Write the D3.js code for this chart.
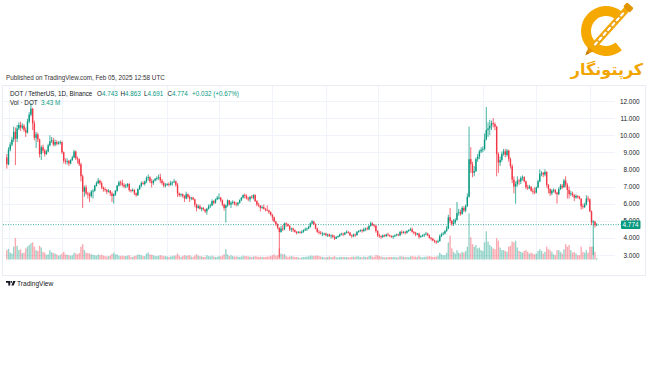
<!DOCTYPE html>
<html><head><meta charset="utf-8">
<script src="https://cdn.jsdelivr.net/npm/d3@7"></script>
<style>html,body{margin:0;padding:0;background:#fff;}svg{display:block}</style>
</head><body>
<svg id="chart" width="650" height="365"></svg>
<script>
// ---------- DATA (daily DOT/USDT, Binance, 2024-02-29 .. 2025-02-05) ----------
const firstDate = "2024-02-29";
const firstOpen = 8.7;
const closes = [
 8.3,
 9.15,9.45,9.75,10.2,9.8,10.4,10.6,10.45,10.55,10.3,10.15,10.8,11.2,11.55,10.7,9.85,10.05,9.75,8.9,9.3,9.1,8.9,9.05,9.4,9.65,9.7,9.45,9.6,9.5,9.55,9.6,
 9.0,8.5,8.45,8.5,8.35,8.55,8.7,9.05,8.65,8.6,8.3,7.6,6.7,6.95,6.6,6.55,6.45,6.7,6.75,7.05,7.2,7.35,7.2,6.95,6.85,6.8,6.7,6.75,6.6,6.45,
 6.55,6.75,7.05,7.25,7.2,7.1,7.0,7.05,7.15,6.8,6.75,6.8,6.6,6.5,6.85,7.05,7.2,7.15,7.3,7.5,7.55,7.3,7.2,7.35,7.45,7.5,7.55,7.35,7.2,7.05,7.1,
 7.15,7.1,7.2,7.25,7.3,7.1,6.6,6.5,6.55,6.45,6.3,6.55,6.4,6.3,6.35,6.25,5.95,5.75,5.85,5.7,5.75,5.65,5.55,5.7,5.85,5.9,6.15,6.05,6.25,6.35,
 6.35,6.2,5.95,5.75,5.9,6.2,5.95,6.05,6.1,6.0,5.95,6.05,6.2,6.35,6.5,6.45,6.3,6.25,6.4,6.35,6.5,6.15,5.95,5.9,5.75,5.8,5.7,5.65,5.6,5.5,5.35,
 5.2,4.95,4.8,4.6,4.35,4.55,4.5,4.85,4.8,4.7,4.5,4.55,4.45,4.35,4.3,4.35,4.3,4.35,4.45,4.5,4.55,4.65,4.85,4.95,4.8,4.55,4.35,4.3,4.25,4.25,4.25,
 4.15,4.2,4.1,4.15,4.05,3.95,4.05,4.1,4.2,4.25,4.2,4.3,4.35,4.3,4.15,4.1,4.2,4.15,4.35,4.4,4.45,4.4,4.5,4.55,4.5,4.7,4.85,4.75,4.7,4.4,
 4.15,4.1,4.05,4.15,4.1,4.2,4.15,4.1,4.05,4.1,4.15,4.2,4.15,4.35,4.3,4.35,4.3,4.4,4.45,4.5,4.35,4.3,4.2,4.25,4.05,4.1,4.15,4.2,4.25,4.15,4.0,
 3.95,3.85,3.8,3.75,3.8,4.1,4.2,4.25,4.4,4.55,5.2,5.0,4.8,4.9,5.05,5.45,5.5,5.4,5.75,5.6,5.85,6.4,8.6,8.3,7.8,7.9,8.6,8.75,9.05,9.15,
 9.2,9.75,10.3,10.4,10.55,10.7,10.65,10.5,8.9,8.4,8.55,8.9,9.05,8.85,9.1,8.6,8.2,7.4,7.0,7.15,7.35,7.3,7.5,7.55,7.3,6.95,6.9,7.0,6.75,6.7,6.65,
 6.95,7.3,7.75,7.8,7.7,7.85,7.1,6.85,6.6,6.75,6.8,6.65,6.55,6.85,7.05,6.95,7.35,7.1,6.8,6.55,6.6,6.5,6.35,6.45,6.4,6.3,5.85,5.8,5.95,6.3,6.25,
 5.55,4.9,4.95,4.743,4.774
];
const highs = [
 8.9,
 9.3,9.6,9.9,10.5,10.45,10.6,10.75,10.8,10.7,10.65,10.45,10.95,11.35,11.88,11.6,10.85,10.2,10.15,9.8,9.4,9.45,9.2,9.15,9.5,10.0,9.9,9.85,9.75,9.7,9.65,9.7,
 9.65,9.05,8.65,8.65,8.55,8.6,8.8,9.15,9.1,8.75,8.65,8.4,7.7,7.05,7.1,6.7,6.65,6.8,6.85,7.1,7.3,7.5,7.4,7.3,7.0,6.95,6.85,6.85,6.8,6.7,
 6.6,6.8,7.1,7.35,7.35,7.4,7.2,7.15,7.2,7.2,6.85,6.9,6.85,6.65,6.9,7.1,7.3,7.3,7.35,7.6,7.7,7.6,7.45,7.4,7.5,7.6,7.7,7.75,7.45,7.3,7.2,
 7.2,7.25,7.35,7.3,7.45,7.35,7.2,6.65,6.6,6.6,6.5,6.7,6.6,6.5,6.4,6.4,6.3,6.0,5.95,5.95,5.8,5.8,5.7,5.75,5.95,6.0,6.25,6.2,6.3,6.45,
 6.6,6.4,6.25,6.0,5.95,6.25,6.2,6.15,6.2,6.15,6.1,6.1,6.25,6.4,6.55,6.6,6.55,6.4,6.45,6.5,6.55,6.55,6.2,6.05,5.9,5.9,5.95,5.75,5.9,5.65,5.55,
 5.4,5.25,5.0,4.85,4.6,4.7,4.75,4.9,4.9,4.85,4.75,4.6,4.6,4.5,4.4,4.4,4.4,4.45,4.5,4.6,4.6,4.7,4.9,5.05,5.0,4.85,4.6,4.45,4.4,4.35,4.3,
 4.3,4.25,4.25,4.2,4.2,4.15,4.1,4.15,4.25,4.3,4.3,4.35,4.45,4.4,4.35,4.2,4.25,4.25,4.4,4.45,4.5,4.5,4.6,4.6,4.65,4.75,4.95,4.9,4.8,4.75,
 4.45,4.25,4.15,4.2,4.2,4.25,4.3,4.2,4.15,4.15,4.2,4.25,4.25,4.4,4.45,4.4,4.4,4.45,4.5,4.6,4.6,4.4,4.35,4.3,4.3,4.15,4.2,4.25,4.35,4.3,4.2,
 4.05,4.0,3.9,3.85,3.9,4.2,4.3,4.35,4.45,4.7,5.35,5.75,5.05,5.1,5.15,6.1,5.7,5.65,5.85,5.85,5.95,6.6,10.5,9.3,8.45,8.2,8.7,8.9,9.15,9.3,
 9.35,10.1,11.65,10.75,10.9,10.85,11.0,10.75,10.55,9.0,8.75,9.05,9.2,9.2,9.2,9.15,8.7,8.3,7.6,7.3,7.6,7.45,7.6,7.65,7.6,7.35,7.1,7.1,7.0,6.9,6.95,
 7.0,7.4,8.0,7.9,7.85,8.0,7.9,7.15,6.9,6.85,6.9,6.85,6.7,6.95,7.15,7.15,7.45,7.6,7.2,7.0,6.75,6.7,6.55,6.55,6.5,6.45,6.3,6.0,6.05,6.5,6.45,
 6.3,5.6,5.05,5.0,4.863
];
const lows = [
 8.05,
 8.25,9.05,9.35,9.6,8.25,9.6,10.3,10.25,10.35,10.2,9.9,10.1,10.7,11.1,10.3,9.7,9.25,9.6,8.7,8.55,8.95,8.75,8.85,9.0,9.35,9.55,9.35,9.35,9.4,9.45,9.45,
 8.9,8.35,8.3,8.3,8.2,8.3,8.5,8.65,8.55,8.35,8.2,7.3,5.75,6.4,6.5,6.3,6.1,6.35,6.3,6.7,7.0,7.15,7.1,6.85,6.7,6.7,6.55,6.65,6.45,6.1,
 6.0,6.45,6.7,7.0,7.05,7.0,6.9,6.9,6.95,6.7,6.65,6.7,6.5,6.4,6.45,6.8,6.95,7.1,7.05,7.2,7.35,7.2,6.95,7.1,7.3,7.35,7.4,7.2,7.1,6.95,6.95,
 7.05,7.0,7.05,7.05,7.2,7.0,6.4,6.4,6.4,6.35,6.1,6.25,6.3,6.1,6.2,6.2,5.8,5.55,5.7,5.65,5.55,5.6,5.45,5.35,5.65,5.75,5.85,5.95,6.0,6.2,
 6.25,6.1,5.85,5.6,4.9,5.8,5.9,5.75,5.95,5.9,5.85,5.85,6.0,6.15,6.3,6.3,6.25,6.15,6.1,6.3,6.25,6.1,5.85,5.8,5.55,5.7,5.65,5.55,5.55,5.4,5.3,
 5.0,4.9,4.7,4.5,2.85,4.3,4.4,4.45,4.65,4.65,4.4,4.35,4.35,4.3,4.2,4.25,4.25,4.25,4.3,4.4,4.4,4.5,4.6,4.8,4.75,4.5,4.3,4.2,4.2,4.1,4.15,
 4.1,4.05,4.05,3.95,4.0,3.88,3.95,4.0,4.05,4.15,4.1,4.15,4.25,4.25,4.1,4.0,4.05,4.05,4.15,4.3,4.35,4.3,4.35,4.4,4.45,4.45,4.65,4.7,4.6,4.3,
 4.05,4.0,3.95,4.0,4.05,4.05,4.1,4.05,4.0,3.95,4.05,4.1,4.1,4.1,4.2,4.25,4.2,4.25,4.35,4.4,4.3,4.2,4.1,4.15,3.95,4.0,4.05,4.05,4.15,4.1,3.95,
 3.85,3.8,3.7,3.65,3.7,3.8,4.05,4.15,4.2,4.35,4.5,4.85,4.7,4.7,4.8,5.0,5.3,5.3,5.35,5.5,5.5,5.8,6.35,7.8,7.55,7.6,7.85,8.45,8.6,8.95,
 9.0,9.1,9.7,9.9,10.0,10.3,10.45,10.3,7.6,7.8,8.2,8.45,8.8,8.7,8.75,8.45,8.05,7.2,6.6,6.0,7.0,7.1,7.15,7.35,7.25,6.85,6.8,6.85,6.7,6.55,6.55,
 6.6,6.9,7.25,7.6,7.55,7.6,6.95,6.6,6.45,6.5,6.65,6.55,6.0,6.5,6.8,6.85,6.95,6.95,6.3,6.3,6.45,6.4,6.15,6.3,6.3,6.25,5.65,5.7,5.75,5.9,6.1,
 5.5,4.75,3.0,4.6,4.691
];
// volume, millions of DOT
const volumes = [
 22,
 25,16,14,30,50,32,22,24,15,16,26,30,34,38,40,30,22,20,32,28,18,16,11,12,22,17,15,14,12,9,10,
 14,18,12,11,10,9,10,16,14,12,15,30,36,22,16,15,14,12,11,10,9,12,10,11,9,8,7,8,9,13,
 16,12,12,9,8,9,8,8,9,10,6,6,8,9,12,11,10,8,8,14,16,12,11,10,8,8,9,10,9,8,8,
 7,6,7,8,9,9,14,9,6,8,10,9,9,10,7,6,9,12,9,8,7,6,6,10,8,7,9,7,6,6,
 8,7,9,12,24,12,8,10,8,7,7,7,6,7,9,8,8,7,7,6,7,8,7,6,7,6,6,6,7,7,8,
 10,12,9,10,26,14,12,13,8,6,7,8,7,6,6,5,4,5,6,6,7,7,9,9,8,9,9,8,7,6,5,
 5,6,7,6,6,8,5,5,6,6,6,6,6,5,5,6,7,6,8,7,6,5,7,6,6,8,9,7,6,10,
 10,8,7,6,5,5,6,6,6,6,6,5,5,8,7,7,6,6,5,7,8,7,7,6,9,6,5,6,7,7,8,
 7,6,6,7,9,16,12,10,10,16,40,56,26,18,14,22,16,14,18,16,20,30,108,52,36,30,34,26,28,22,
 20,40,66,42,34,30,26,24,50,44,28,22,22,20,18,30,32,42,40,44,28,20,18,16,20,22,18,14,16,14,12,
 14,20,24,20,14,18,30,24,22,18,12,10,22,22,18,14,24,36,30,34,22,16,18,14,10,10,30,18,16,22,16,
 30,30,30,18,3.43
];
const priceTicks = [3,4,5,6,7,8,9,10,11,12];
const monthLabels = ["Mar","Apr","May","Jun","Jul","Aug","Sep","Oct","Nov","Dec","2025","Feb"];
const lastPrice = 4.774;
const changeText = "+0.032 (+0.67%)";

// ---------- LAYOUT ----------
const svg = d3.select("#chart");
const W = 650, H = 365;
const plot = {left: 3, right: 615, top: 86, bottom: 262};
const GREEN = "#089981", RED = "#F23645";
const FONT = "'Liberation Sans', Arial, sans-serif";
const TEXT = "#131722";

const parse = d3.utcParse("%Y-%m-%d");
const start = parse(firstDate);
const data = closes.map((c, i) => ({
  date: d3.utcDay.offset(start, i),
  open: i === 0 ? firstOpen : closes[i - 1],
  high: highs[i], low: lows[i], close: c, vol: volumes[i]
}));

const x = d3.scaleUtc()
  .domain([parse("2024-03-01"), parse("2025-02-01")])
  .range([8.5, 589.8]);
const y = d3.scaleLinear().domain([3, 12]).range([255, 101]);
const vy = d3.scaleLinear().domain([0, 110]).range([259.5, 212.5]);

svg.append("rect").attr("width", W).attr("height", H).attr("fill", "#fff");

const defs = svg.append("defs");
defs.append("clipPath").attr("id", "plotClip").append("rect")
  .attr("x", plot.left).attr("y", plot.top)
  .attr("width", plot.right - plot.left).attr("height", plot.bottom - plot.top);
defs.append("clipPath").attr("id", "axisClip").append("rect")
  .attr("x", 4.5).attr("y", plot.bottom).attr("width", plot.right - 4.5).attr("height", 14);

// frame
svg.append("rect").attr("x", 2.5).attr("y", 85.5).attr("width", 643).attr("height", 190)
  .attr("fill", "none").attr("stroke", "#e9ecf2").attr("stroke-width", 1);

// grid
const grid = svg.append("g").attr("clip-path", "url(#plotClip)");
const monthTicks = d3.utcMonth.range(parse("2024-03-01"), parse("2025-02-02"));
grid.selectAll("line.v").data(monthTicks).join("line")
  .attr("x1", d => Math.round(x(d)) + 0.5).attr("x2", d => Math.round(x(d)) + 0.5)
  .attr("y1", plot.top).attr("y2", plot.bottom)
  .attr("stroke", "#f0f3fa").attr("stroke-width", 1);
grid.selectAll("line.h").data(priceTicks).join("line")
  .attr("x1", plot.left).attr("x2", plot.right)
  .attr("y1", d => Math.round(y(d)) + 0.5).attr("y2", d => Math.round(y(d)) + 0.5)
  .attr("stroke", "#f0f3fa").attr("stroke-width", 1);

// volume
const gv = svg.append("g").attr("clip-path", "url(#plotClip)");
gv.selectAll("rect").data(data).join("rect")
  .attr("x", d => x(d.date) - 0.7).attr("width", 1.4)
  .attr("y", d => vy(d.vol)).attr("height", d => vy(0) - vy(d.vol))
  .attr("fill", d => d.close >= d.open ? "rgba(8,153,129,0.42)" : "rgba(242,54,69,0.42)");

// last price dotted line
svg.append("line").attr("x1", plot.left).attr("x2", 621)
  .attr("y1", y(lastPrice)).attr("y2", y(lastPrice))
  .attr("stroke", GREEN).attr("stroke-width", 0.8).attr("stroke-dasharray", "1,1.5");

// candles
const gc = svg.append("g").attr("clip-path", "url(#plotClip)");
gc.selectAll("line").data(data).join("line")
  .attr("x1", d => x(d.date)).attr("x2", d => x(d.date))
  .attr("y1", d => y(d.high)).attr("y2", d => y(d.low))
  .attr("stroke", d => d.close >= d.open ? GREEN : RED).attr("stroke-width", 0.75);
gc.selectAll("rect").data(data).join("rect")
  .attr("x", d => x(d.date) - 0.7).attr("width", 1.4)
  .attr("y", d => y(Math.max(d.open, d.close)))
  .attr("height", d => Math.max(0.8, Math.abs(y(d.open) - y(d.close))))
  .attr("fill", d => d.close >= d.open ? GREEN : RED);

// price axis (right)
const yAxis = d3.axisRight(y).tickValues(priceTicks).tickSize(0).tickPadding(0)
  .tickFormat(d3.format(".3f"));
const ya = svg.append("g").attr("transform", "translate(639.5,0)").call(yAxis);
ya.select(".domain").remove();
ya.selectAll("text").attr("text-anchor", "end").attr("x", 0)
  .attr("font-family", FONT).attr("font-size", 6.4).attr("fill", TEXT);

// price label
svg.append("rect").attr("x", 621).attr("y", y(lastPrice) - 4.2).attr("width", 19.5).attr("height", 8.6)
  .attr("rx", 1).attr("fill", GREEN);
svg.append("text").attr("x", 638.5).attr("y", y(lastPrice) + 2.2).attr("text-anchor", "end")
  .attr("font-family", FONT).attr("font-size", 6.4).attr("fill", "#fff").text(d3.format(".3f")(lastPrice));

// time axis
const xAxis = d3.axisBottom(x).tickValues(monthTicks).tickSize(0).tickPadding(0)
  .tickFormat((d, i) => monthLabels[i]);
const xa = svg.append("g").attr("transform", "translate(0,270.5)").attr("clip-path", "url(#axisClip)").call(xAxis);
xa.select(".domain").remove();
xa.selectAll("text").attr("dy", 0).attr("y", 0)
  .attr("font-family", FONT).attr("font-size", 6.4).attr("fill", TEXT)
  .attr("font-weight", (d, i) => monthLabels[i] === "2025" ? "bold" : "normal");

// header texts
svg.append("text").attr("x", 6).attr("y", 80).attr("font-family", FONT).attr("font-size", 6.3)
  .attr("fill", "#333").text("Published on TradingView.com, Feb 05, 2025 12:58 UTC");

const legY = 96, LFS = 6.3;
svg.append("text").attr("x", 10).attr("y", legY).attr("font-family", FONT)
  .attr("font-size", LFS).attr("fill", TEXT).text("DOT / TetherUS, 1D, Binance");
const last = data[data.length - 1];
const ohlc = [["O", last.open, 97], ["H", last.high, 120.5], ["L", last.low, 144], ["C", last.close, 167.5]];
ohlc.forEach(([k, v, px]) => {
  const t = svg.append("text").attr("x", px).attr("y", legY).attr("font-family", FONT)
    .attr("font-size", LFS).attr("fill", TEXT);
  t.append("tspan").text(k);
  t.append("tspan").attr("fill", GREEN).text(d3.format(".3f")(v));
});
svg.append("text").attr("x", 192).attr("y", legY).attr("font-family", FONT)
  .attr("font-size", LFS).attr("fill", GREEN).text(changeText);

svg.append("text").attr("x", 10).attr("y", 105).attr("font-family", FONT)
  .attr("font-size", LFS).attr("fill", TEXT).text("Vol · DOT");
svg.append("text").attr("x", 41).attr("y", 105).attr("font-family", FONT)
  .attr("font-size", LFS).attr("fill", GREEN).text(d3.format(".2f")(last.vol) + " M");

// TradingView footer
const tv = svg.append("g").attr("transform", "translate(6,281)");
tv.append("path").attr("d", "M0,0 H4.2 V4.6 H2.3 V1.8 H0 Z").attr("fill", TEXT);
tv.append("circle").attr("cx", 5.3).attr("cy", 0.9).attr("r", 0.9).attr("fill", TEXT);
tv.append("path").attr("d", "M7.2,0 H9.6 L7.6,4.6 H5.4 Z").attr("fill", TEXT);
svg.append("text").attr("x", 17).attr("y", 285.6).attr("font-family", FONT).attr("font-size", 6.6)
  .attr("fill", TEXT).text("TradingView");

// brand logo (top right)
const GOLD = "#F5A800";
const logo = svg.append("g");
const arc = d3.arc().innerRadius(15).outerRadius(25).startAngle(Math.PI * 0.78).endAngle(Math.PI * 2.22);
logo.append("path").attr("d", arc()).attr("transform", "translate(606,31)").attr("fill", GOLD);
const chain = logo.append("g").attr("transform", "translate(609,29) rotate(-48)");
chain.append("rect").attr("x", -27).attr("y", -3.2).attr("width", 54).attr("height", 6.4).attr("rx", 2).attr("fill", GOLD);
d3.range(-3, 4).forEach(k => {
  chain.append("ellipse").attr("cx", k * 6.5).attr("cy", 0).attr("rx", 3.2).attr("ry", 1.6)
    .attr("fill", "#fff").attr("stroke", "#E39500").attr("stroke-width", 0.8);
});
chain.append("rect").attr("x", 26).attr("y", -4.5).attr("width", 6).attr("height", 9).attr("rx", 1.5).attr("fill", "#E39500");
chain.append("path").attr("d", "M-27,-3.6 L-34,0 L-27,3.6 Z").attr("fill", "#E39500");
chain.append("path").attr("d", "M-31,-1.8 L-35.5,0 L-31,1.8 Z").attr("fill", "#c47a00");
logo.append("text").attr("x", 607).attr("y", 75).attr("text-anchor", "middle")
  .attr("font-family", "'DejaVu Sans', sans-serif").attr("font-weight", "bold").attr("font-size", 16)
  .attr("fill", "#F2A500").attr("direction", "rtl").text("کرپتونگار");
</script>
</body></html>
